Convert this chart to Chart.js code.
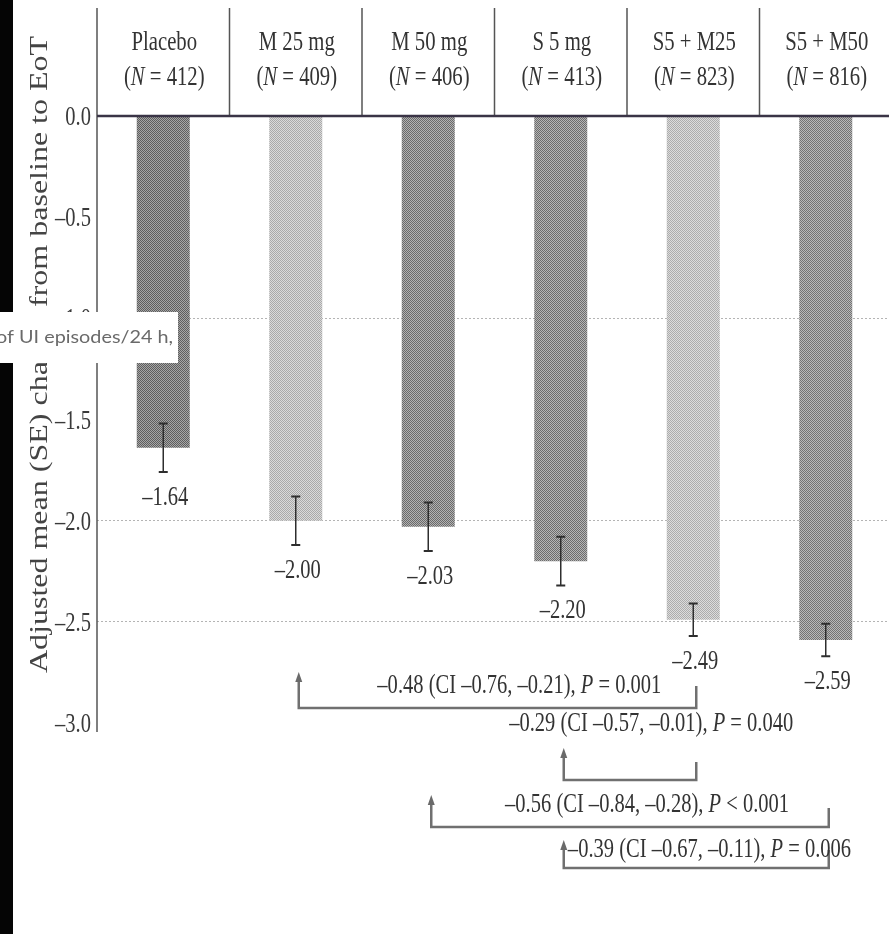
<!DOCTYPE html>
<html>
<head>
<meta charset="utf-8">
<script src="https://cdn.jsdelivr.net/npm/chart.js@4.4.1/dist/chart.umd.min.js"></script>
<style>
  html, body { margin: 0; padding: 0; background: #fff; overflow: hidden; }
  #wrap { position: relative; width: 892px; height: 934px; }
</style>
</head>
<body>
<div id="wrap"><canvas id="c" width="892" height="934"></canvas></div>
<script>
// Treatment groups and their sizes
const groups = ['Placebo', 'M 25 mg', 'M 50 mg', 'S 5 mg', 'S5 + M25', 'S5 + M50'];
const groupN = [412, 409, 406, 413, 823, 816];

// Adjusted mean change and its standard error
const meanChange = [-1.64, -2.00, -2.03, -2.20, -2.49, -2.59];
const standardError = [0.12, 0.12, 0.12, 0.12, 0.08, 0.08];

// Y axis ticks
const yTicks = [0, -0.5, -1.0, -1.5, -2.0, -2.5, -3.0];
const dottedGrid = [-1.0, -2.0, -2.5];

// Pairwise comparisons (group indices, difference, CI, P)
const compFrom = [1, 3, 2, 3];
const compTo = [4, 4, 5, 5];
const compDiff = [-0.48, -0.29, -0.56, -0.39];
const compLow = [-0.76, -0.57, -0.84, -0.67];
const compHigh = [-0.21, -0.01, -0.28, -0.11];
const compP = ['= 0.001', '= 0.040', '< 0.001', '= 0.006'];

const yTitle = 'Adjusted mean (SE) change from baseline to EoT';
const insetText = 'of UI episodes/24 h,';

const SERIF = "'Liberation Serif', 'Times New Roman', serif";
const SX = 0.76;

function fmt(v, d) {
  return (v < 0 ? '\u2013' : '') + Math.abs(v).toFixed(d);
}

// fine halftone fill for the bars
function halftone(dark, light) {
  const p = document.createElement('canvas');
  p.width = 2; p.height = 2;
  const g = p.getContext('2d');
  g.fillStyle = light; g.fillRect(0, 0, 2, 2);
  g.fillStyle = dark; g.fillRect(0, 0, 1, 1); g.fillRect(1, 1, 1, 1);
  return document.getElementById('c').getContext('2d').createPattern(p, 'repeat');
}
const barFills = [
  halftone('#5e5e5e', '#a6a6a6'),
  halftone('#a9a9a9', '#dadada'),
  halftone('#6a6a6a', '#b2b2b2'),
  halftone('#6c6c6c', '#b6b6b6'),
  halftone('#acacac', '#dcdcdc'),
  halftone('#727272', '#b8b8b8')
];

// draw a run of text pieces (some italic) with horizontal squeeze
function drawParts(ctx, parts, x, y, align, size, sx, color) {
  ctx.save();
  let total = 0;
  const widths = parts.map(p => {
    ctx.font = (p.i ? 'italic ' : '') + size + 'px ' + SERIF;
    const w = ctx.measureText(p.t).width;
    total += w;
    return w;
  });
  let start = x;
  if (align === 'center') start = x - total * sx / 2;
  else if (align === 'right') start = x - total * sx;
  ctx.translate(start, y);
  ctx.scale(sx, 1);
  ctx.fillStyle = color;
  ctx.textAlign = 'left';
  ctx.textBaseline = 'alphabetic';
  let cx = 0;
  parts.forEach((p, k) => {
    ctx.font = (p.i ? 'italic ' : '') + size + 'px ' + SERIF;
    ctx.fillText(p.t, cx, 0);
    cx += widths[k];
  });
  ctx.restore();
}

// bracket layout: offsets from the bottom of the plot area
const bracketLevel = [-15, 57, 104, 145];
const bracketTextY = [-30, 8, 89, 134];
const bracketTip = [-51, 25, 72, 117];
const bracketRightTop = [-37, 39, 85, 127];
const bracketTextPos = [0.555, 0.66, 0.543, 0.55];

const decor = {
  id: 'decor',
  beforeDraw(chart) {
    const ctx = chart.ctx;
    ctx.save();
    ctx.fillStyle = '#fff';
    ctx.fillRect(0, 0, chart.width, chart.height);
    ctx.restore();
  },
  afterDatasetsDraw(chart) {
    const ctx = chart.ctx;
    const ys = chart.scales.y;
    const xs = chart.scales.x;
    const area = chart.chartArea;
    const meta = chart.getDatasetMeta(0);
    const zeroY = ys.getPixelForValue(0);

    // error bars and value labels
    meanChange.forEach((v, i) => {
      const bx = meta.data[i].x;
      const top = ys.getPixelForValue(v + standardError[i]);
      const bot = ys.getPixelForValue(v - standardError[i]);
      ctx.save();
      ctx.strokeStyle = '#2e2e2e';
      ctx.lineWidth = 1.5;
      ctx.beginPath();
      ctx.moveTo(bx, top); ctx.lineTo(bx, bot);
      ctx.stroke();
      ctx.lineWidth = 2;
      ctx.beginPath();
      ctx.moveTo(bx - 4.5, top); ctx.lineTo(bx + 4.5, top);
      ctx.moveTo(bx - 4.5, bot); ctx.lineTo(bx + 4.5, bot);
      ctx.stroke();
      ctx.restore();
      drawParts(ctx, [{ t: fmt(v, 2) }], bx + 2, bot + 33, 'center', 27, SX, '#333');
    });

    // header dividers and axis line
    ctx.save();
    ctx.strokeStyle = '#555';
    ctx.lineWidth = 1.5;
    ctx.beginPath();
    ctx.moveTo(area.left, 8); ctx.lineTo(area.left, area.bottom + 9);
    for (let i = 0; i < groups.length - 1; i++) {
      const dx = (xs.getPixelForValue(i) + xs.getPixelForValue(i + 1)) / 2;
      ctx.moveTo(dx, 8); ctx.lineTo(dx, zeroY);
    }
    ctx.stroke();
    // zero line
    ctx.strokeStyle = '#3a3446';
    ctx.lineWidth = 2.5;
    ctx.beginPath();
    ctx.moveTo(area.left, zeroY); ctx.lineTo(chart.width, zeroY);
    ctx.stroke();
    ctx.restore();

    // header labels
    groups.forEach((g, i) => {
      const cx = xs.getPixelForValue(i) + 1;
      drawParts(ctx, [{ t: g }], cx, 50, 'center', 28, 0.74, '#333');
      drawParts(ctx, [{ t: '(' }, { t: 'N', i: true }, { t: ' = ' + groupN[i] + ')' }], cx, 85, 'center', 28, 0.74, '#333');
    });

    // y tick labels
    yTicks.forEach(v => {
      const py = ys.getPixelForValue(v);
      drawParts(ctx, [{ t: fmt(v, 1) }], area.left - 6, py + 9, 'right', 27, SX, '#3a3a3a');
    });

    // y axis title
    ctx.save();
    ctx.translate(47, (area.top + area.bottom) / 2 - 65);
    ctx.rotate(-Math.PI / 2);
    ctx.scale(1, 0.8);
    ctx.font = '32px ' + SERIF;
    ctx.fillStyle = '#444';
    ctx.textAlign = 'center';
    ctx.textBaseline = 'alphabetic';
    ctx.fillText(yTitle, 0, 0);
    ctx.restore();

    // comparison brackets
    compFrom.forEach((f, k) => {
      const x1 = meta.data[f].x + 3;
      const x2 = meta.data[compTo[k]].x + 3;
      const lvl = area.bottom + bracketLevel[k];
      const tip = area.bottom + bracketTip[k];
      const rtop = area.bottom + bracketRightTop[k];
      ctx.save();
      ctx.strokeStyle = '#707070';
      ctx.lineWidth = 2.5;
      ctx.beginPath();
      ctx.moveTo(x1, tip + 6); ctx.lineTo(x1, lvl);
      ctx.lineTo(x2, lvl); ctx.lineTo(x2, rtop);
      ctx.stroke();
      ctx.fillStyle = '#6a6a6a';
      ctx.beginPath();
      ctx.moveTo(x1, tip); ctx.lineTo(x1 - 3.5, tip + 10); ctx.lineTo(x1 + 3.5, tip + 10);
      ctx.closePath();
      ctx.fill();
      ctx.restore();
      const tx = x1 + (x2 - x1) * bracketTextPos[k];
      drawParts(ctx, [
        { t: fmt(compDiff[k], 2) + ' (CI ' + fmt(compLow[k], 2) + ', ' + fmt(compHigh[k], 2) + '), ' },
        { t: 'P', i: true },
        { t: ' ' + compP[k] }
      ], tx, area.bottom + bracketTextY[k], 'center', 27, SX, '#333');
    });
  },
  afterDraw(chart) {
    const ctx = chart.ctx;
    ctx.save();
    // dark margin strip on the left edge
    ctx.fillStyle = '#050505';
    ctx.fillRect(0, 0, 13, chart.height);
    // pasted label slip
    ctx.fillStyle = '#fff';
    ctx.fillRect(0, 312, 178, 51);
    ctx.font = "17px Lato, 'DejaVu Sans', sans-serif";
    const w = ctx.measureText(insetText).width;
    const s = 177 / w;
    ctx.translate(173, 343);
    ctx.scale(s, 1);
    ctx.fillStyle = '#6a6a6a';
    ctx.textAlign = 'right';
    ctx.textBaseline = 'alphabetic';
    ctx.fillText(insetText, 0, 0);
    ctx.restore();
  }
};

new Chart(document.getElementById('c'), {
  type: 'bar',
  data: {
    labels: groups,
    datasets: [{
      data: meanChange,
      backgroundColor: barFills,
      borderWidth: 0,
      barPercentage: 0.4,
      categoryPercentage: 1
    }]
  },
  options: {
    responsive: false,
    animation: false,
    devicePixelRatio: 1,
    layout: { padding: { left: 97, top: 116, right: 0, bottom: 211 } },
    plugins: { legend: { display: false }, tooltip: { enabled: false } },
    scales: {
      x: {
        grid: { display: false },
        border: { display: false },
        ticks: { display: false },
        afterFit: s => { s.height = 0; }
      },
      y: {
        min: -3, max: 0,
        afterBuildTicks: s => { s.ticks = yTicks.map(v => ({ value: v })); },
        ticks: { display: false },
        grid: {
          drawTicks: false,
          lineWidth: 1,
          color: c => (c.tick && dottedGrid.includes(c.tick.value)) ? '#b4b4b4' : 'rgba(0,0,0,0)'
        },
        border: { display: false, dash: [2, 2] },
        afterFit: s => { s.width = 0; }
      }
    }
  },
  plugins: [decor]
});
</script>
</body>
</html>
